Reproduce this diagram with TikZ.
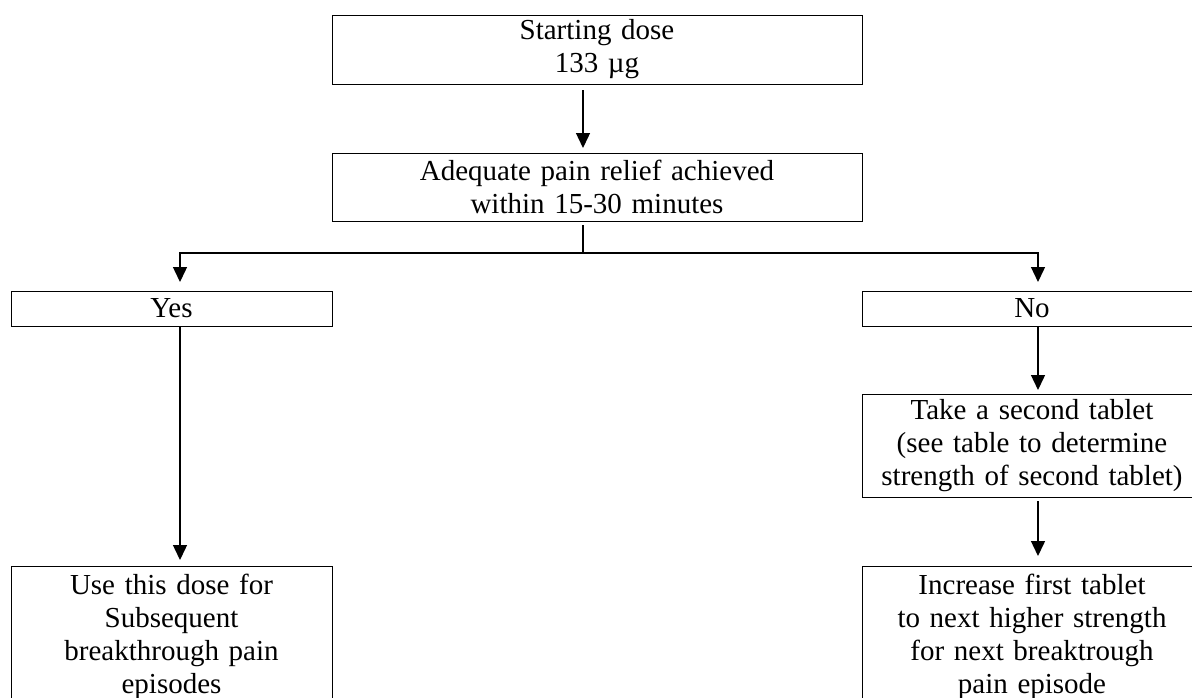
\documentclass[tikz,border=0pt]{standalone}
\usepackage{fontspec}
\setmainfont{Liberation Serif}
\usetikzlibrary{positioning,arrows.meta}

\tikzset{
  dosebox/.style={draw, line width=0.5pt, inner sep=0pt, outer sep=0pt, align=center, font=\fontsize{14.5}{16.5}\selectfont},
  tallbox/.style={dosebox, inner ysep=4pt, text depth=80pt},
  flow/.style={-{Triangle[length=7.5pt,width=7pt]}, line width=0.7pt},
}

\begin{document}
\begin{tikzpicture}[x=0.5pt,y=-0.5pt]
\useasboundingbox (0,0) rectangle (1192,697);
\node (start) [dosebox, text width=265pt, minimum height=34.5pt] at (597,49.5) {Starting dose\\133 µg};
\node (adequate) [dosebox, text width=265pt, minimum height=34pt, below=34.5pt of start] {Adequate pain relief achieved\\within 15-30 minutes};
\node (yes) [dosebox, text width=160.5pt, minimum height=17.5pt, below=35pt of adequate.south west, anchor=north east] {Yes};
\node (no) [dosebox, text width=170pt, minimum height=17.5pt, below=35pt of adequate.south east, anchor=north west] {No};
\node (take) [dosebox, text width=170pt, minimum height=51.5pt, below=34pt of no] {Take a second tablet\\(see table to determine\\strength of second tablet)};
\node (increase) [tallbox, text width=170pt, below=34.5pt of take] {Increase first tablet\\to next higher strength\\for next breaktrough\\pain episode};
\node (usedose) [tallbox, text width=160.5pt, below=120pt of yes] {Use this dose for\\Subsequent\\breakthrough pain\\episodes};

\draw[flow] ([xshift=-7pt,yshift=-3pt]start.south) -- ([xshift=-7pt,yshift=2.5pt]adequate.north);
\draw[line width=0.7pt] ([xshift=-7pt,yshift=-2pt]adequate.south) -- ++(0,-14pt) coordinate (split);
\draw[flow] (split) -| ([xshift=4.25pt,yshift=4.5pt]yes.north);
\draw[flow] (split) -| ([xshift=3pt,yshift=4.5pt]no.north);
\draw[flow] ([xshift=4.25pt]yes.south) -- ([xshift=4.25pt,yshift=3pt]usedose.north);
\draw[flow] ([xshift=3pt]no.south) -- ([xshift=3pt,yshift=2pt]take.north);
\draw[flow] ([xshift=3pt,yshift=-2pt]take.south) -- ([xshift=3pt,yshift=5pt]increase.north);
\end{tikzpicture}
\end{document}
